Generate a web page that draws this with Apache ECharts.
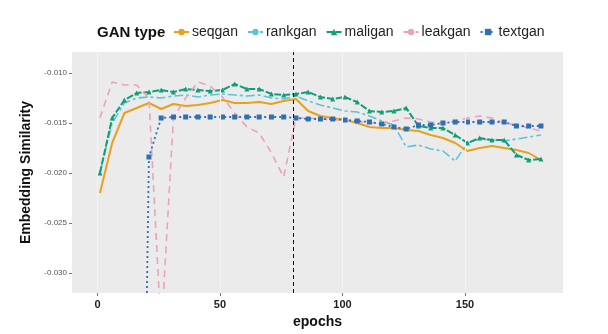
<!DOCTYPE html>
<html>
<head>
<meta charset="utf-8">
<style>
    html, body { margin: 0; padding: 0; background: #fff; }
    #chart { width: 608px; height: 334px; }
</style>
<script src="https://cdn.jsdelivr.net/npm/echarts@6/dist/echarts.min.js"></script>
</head>
<body>
<div id="chart"></div>
<script>
// epochs sampled every 5
const epochs = []
for (let e = 1; e <= 181; e += 5) epochs.push(e)

const seqgan = [
    -0.0220, -0.0170, -0.0140, -0.0135, -0.0130, -0.0136, -0.0131, -0.0133, -0.0132, -0.0130,
    -0.0127, -0.0130, -0.0130, -0.0129, -0.0131, -0.0128, -0.0126, -0.0138, -0.0143, -0.0145,
    -0.0147, -0.0150, -0.0154, -0.0155, -0.0155, -0.0157, -0.0158, -0.0162, -0.0165, -0.0170,
    -0.0178, -0.0175, -0.0173, -0.0175, -0.0177, -0.0180, -0.0187,
]
const rankgan = [
    -0.0200, -0.0150, -0.0130, -0.0125, -0.0124, -0.0125, -0.0123, -0.0122, -0.0124, -0.0122,
    -0.0121, -0.0122, -0.0123, -0.0122, -0.0125, -0.0126, -0.0123, -0.0128, -0.0132, -0.0135,
    -0.0138, -0.0139, -0.0143, -0.0148, -0.0152, -0.0174, -0.0172, -0.0176, -0.0178, -0.0188,
    -0.0170, -0.0166, -0.0167, -0.0168, -0.0166, -0.0164, -0.0162,
]
const maligan = [
    -0.0200, -0.0145, -0.0127, -0.0120, -0.0119, -0.0117, -0.0119, -0.0116, -0.0117, -0.0118,
    -0.0117, -0.0111, -0.0116, -0.0116, -0.0121, -0.0122, -0.0121, -0.0119, -0.0124, -0.0126,
    -0.0124, -0.0129, -0.0138, -0.0139, -0.0138, -0.0135, -0.0153, -0.0155, -0.0155, -0.0162,
    -0.0170, -0.0165, -0.0167, -0.0167, -0.0182, -0.0187, -0.0186,
]
const leakgan = [
    -0.0145, -0.0109, -0.0112, -0.0112, -0.0125, -0.0360, -0.0145, -0.0125, -0.0109, -0.0113,
    -0.0124, -0.0140, -0.0154, -0.0160, -0.0180, -0.0204, -0.0145, -0.0145, -0.0146, -0.0147,
    -0.0147, -0.0148, -0.0150, -0.0150, -0.0148, -0.0145, -0.0146, -0.0149, -0.0150, -0.0148,
    -0.0145, -0.0143, -0.0145, -0.0150, -0.0152, -0.0155, -0.0158,
]
const textgan = [
    null, null, null, -0.1000, -0.0184, -0.0145, -0.0144, -0.0144, -0.0144, -0.0144,
    -0.0144, -0.0144, -0.0144, -0.0144, -0.0144, -0.0144, -0.0145, -0.0146, -0.0146, -0.0146,
    -0.0147, -0.0148, -0.0149, -0.0151, -0.0154, -0.0156, -0.0152, -0.0152, -0.0150, -0.0149,
    -0.0149, -0.0149, -0.0149, -0.0149, -0.0153, -0.0153, -0.0153,
]

const xTicks = [0, 50, 100, 150]
const yTicks = [-0.030, -0.025, -0.020, -0.015, -0.010]
const phaseSwitch = 80

const pairs = (values) => epochs.map((e, i) => [e, values[i]])

const chart = echarts.init(document.getElementById('chart'))

const makeSeries = (name, values, color, dash, width, symbol) => ({
    name,
    type: 'line',
    data: pairs(values),
    symbol: symbol || 'none',
    symbolSize: 5,
    showSymbol: !!symbol,
    clip: true,
    lineStyle: { color, width, type: dash },
    itemStyle: { color },
    emphasis: { disabled: true },
})

chart.setOption({
    animation: false,
    textStyle: { fontFamily: 'Liberation Sans, Arial, sans-serif' },
    graphic: [
        {
            type: 'text',
            left: 97,
            top: 25,
            style: { text: 'GAN type', fontSize: 15, fontWeight: 'bold', fill: '#111', fontFamily: 'Liberation Sans' },
        },
    ],
    legend: {
        left: 168,
        top: 20,
        itemWidth: 15,
        itemHeight: 8,
        itemGap: 9,
        textStyle: { fontSize: 14, color: '#222', padding: [0, 0, 0, -2] },
        data: ['seqgan', 'rankgan', 'maligan', 'leakgan', 'textgan'],
    },
    grid: {
        left: 72,
        right: 45,
        top: 52,
        bottom: 41,
        show: true,
        backgroundColor: '#ebebeb',
        borderWidth: 0,
    },
    xAxis: {
        type: 'value',
        min: -10.4,
        max: 190,
        name: 'epochs',
        nameLocation: 'middle',
        nameGap: 20,
        nameTextStyle: { fontSize: 14, fontWeight: 'bold', color: '#111' },
        axisLine: { show: false, onZero: false },
        axisTick: { show: true, length: 3, lineStyle: { color: '#777' }, customValues: xTicks },
        axisLabel: { fontSize: 11, color: '#222', fontWeight: 'bold', margin: 6, customValues: xTicks },
        splitLine: { show: false },
    },
    yAxis: {
        type: 'value',
        min: -0.032,
        max: -0.0079,
        name: 'Embedding Similarity',
        nameLocation: 'middle',
        nameGap: 31,
        nameTextStyle: { fontSize: 14, fontWeight: 'bold', color: '#111' },
        axisLine: { show: false, onZero: false },
        axisTick: { show: true, length: 3, lineStyle: { color: '#777' }, customValues: yTicks },
        axisLabel: {
            fontSize: 8,
            color: '#555',
            margin: 5,
            customValues: yTicks,
            formatter: (v) => v.toFixed(3),
        },
        splitLine: { show: false },
    },
    series: [
        {
            ...makeSeries('seqgan', seqgan, '#e8a11c', 'solid', 2),
            markLine: {
                silent: true,
                symbol: 'none',
                label: { show: false },
                lineStyle: { color: '#111', type: [4, 3], width: 1 },
                data: [{ xAxis: phaseSwitch }],
            },
        },
        {
            ...makeSeries('rankgan', rankgan, '#5cc3dc', [9, 3, 3, 3], 1.6),
            z: 1,
            markLine: {
                silent: true,
                symbol: 'none',
                label: { show: false },
                lineStyle: { color: '#f4f4f4', type: 'solid', width: 1 },
                data: xTicks.map((t) => ({ xAxis: t })),
            },
        },
        makeSeries('maligan', maligan, '#119e78', [7, 2], 2, 'triangle'),
        makeSeries('leakgan', leakgan, '#e9a3bb', [7, 5], 1.6),
        makeSeries('textgan', textgan, '#2f6fb2', [2, 3], 1.8, 'rect'),
    ],
})
</script>
</body>
</html>
